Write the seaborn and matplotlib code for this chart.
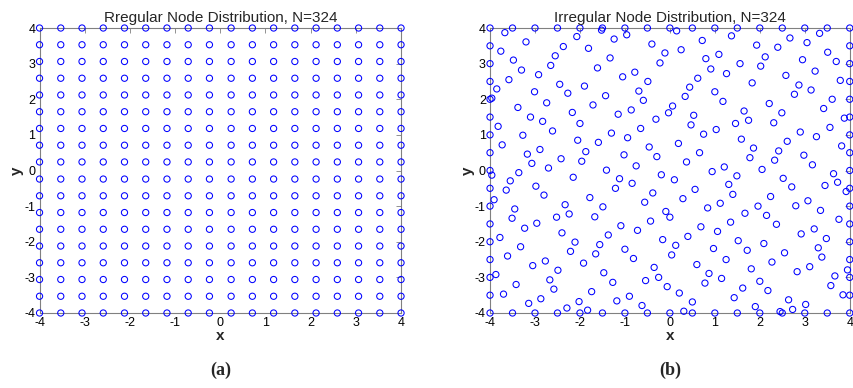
import matplotlib
matplotlib.use("Agg")
import matplotlib.pyplot as plt
import seaborn as sns
import numpy as np
import pandas as pd

# ---------------- data ----------------
grid_vals = [-4.0, -3.53, -3.06, -2.59, -2.12, -1.65, -1.18, -0.71, -0.24,
             0.24, 0.71, 1.18, 1.65, 2.12, 2.59, 3.06, 3.53, 4.0]

edge_vals = [-4.0, -3.5, -3.0, -2.5, -2.0, -1.5, -1.0, -0.5, 0.0,
             0.5, 1.0, 1.5, 2.0, 2.5, 3.0, 3.5, 4.0]

interior_x = [
    -3.67, -3.20, -3.76, -2.37, -2.55, -3.48, -2.65, -3.30, -2.92, -3.58,
    -3.85, -2.45, -3.01, -2.27, -3.96, -2.74, -3.38, -3.10, -2.17,
    -1.52, -2.07, -1.24, -0.96, -1.81, -0.40, -1.33, -0.22, -1.61, -0.78,
    -1.05, -0.49, -1.90, -0.69, -1.43, -0.59, -1.71, -1.15, -0.86,
    0.15, 0.72, 1.37, -0.11, 0.25, 0.80, 1.09, 1.56, 0.91, 1.26,
    0.62, 1.83, 0.44, 1.00, 0.34, 1.18, 0.06, -0.03, 0.53, 1.65,
    2.67, 3.33, 1.93, 2.40, 3.05, 3.51, 2.12, 2.95, 3.70, 2.02,
    3.23, 2.58, 3.79, 2.87, 3.14, 2.77, 3.61, 2.21, 3.42, 2.49,
    -2.83, -3.82, -2.61, -3.27, -3.73, -2.89, -3.17, -2.42, -3.07, -2.70,
    -3.36, -3.96, -2.15, -3.55, -2.98, -3.64, -2.80, -3.91, -2.33, -3.45,
    -0.31, -2.00, -1.30, -0.65, -2.05, -1.59, -0.94, -1.87, -0.46, -1.02,
    -0.29, -1.96, -0.75, -1.41, -0.19, -1.12, -0.84, -1.21, -0.38, -1.78,
    -0.56, -1.49,
    0.47, 1.46, 1.75, 0.75, 1.03, 0.19, 1.59, 0.66, 1.86, 1.78,
    0.37, 1.21, 0.94, 1.49, 0.10, 1.31, 0.56, 1.40, 0.29, 1.12,
    0.84, -0.09,
    3.88, 2.31, 2.90, 3.56, 3.26, 2.61, 2.42, 3.82, 2.98, 2.33,
    3.17, 2.05, 3.64, 2.52, 3.73, 2.71, 3.45, 3.92, 2.24, 3.07,
    1.96, 2.80, 3.35,
    -3.51, -2.52, -2.24, -3.23, -2.96, -3.78, -2.40, -3.32, -2.21, -3.61,
    -3.05, -2.77, -3.87, -2.49, -2.67, -3.42, -2.58, -3.70, -2.87, -3.14,
    -2.29,
    -1.67, -1.09, -0.43, -2.11, -1.37, -0.72, -1.56, -0.16, -1.00, -1.65,
    -0.81, -1.92, -0.35, -1.47, -0.25, -1.27, -0.54, -1.74, -0.90, -2.02,
    -1.18, -0.62, -1.83,
    0.00, 1.67, 0.69, 1.35, 1.06, 0.40, 1.52, 0.13, 0.97, 1.72,
    0.04, 1.25, 0.60, 1.81, 0.87, 1.15, 0.78, -0.06, 1.62, 0.21,
    1.43, 0.50, 0.31,
    2.15, 3.76, 2.37, 3.21, 2.92, 3.48, 2.09, 3.30, 2.55, 3.38,
    2.27, 3.11, 2.83, 3.95, 3.67, 2.00, 3.58, 2.18, 3.85, 2.64,
    3.02, 1.90, 2.73, 2.45,
]

interior_y = [
    3.87, 3.61, 3.35, 3.48, 3.22, 3.10, 2.95, 2.82, 2.69, 2.55,
    2.29, 2.42, 2.21, 2.17, 2.03, 1.90, 1.77, 1.50, 1.63,
    3.94, 3.76, 3.69, 3.81, 3.43, 3.55, 3.16, 3.02, 2.88, 2.76,
    2.63, 2.50, 2.37, 2.23, 2.10, 1.97, 1.84, 1.58, 1.70,
    3.92, 3.65, 3.78, 3.30, 3.39, 3.14, 3.26, 3.00, 2.85, 2.72,
    2.59, 2.46, 2.34, 2.21, 2.08, 1.94, 1.81, 1.62, 1.55, 1.67,
    3.72, 3.85, 3.52, 3.46, 3.59, 3.32, 3.19, 3.11, 3.06, 2.93,
    2.79, 2.67, 2.53, 2.40, 2.26, 2.14, 2.00, 1.88, 1.74, 1.62,
    1.38, 1.24, 1.11, 0.99, 0.72, 0.59, 0.46, 0.33, 0.20, 0.07,
    -0.06, -0.13, -0.19, -0.29, -0.44, -0.55, -0.69, -0.82, -0.96, -1.08,
    1.44, 1.32, 1.05, 1.18, 0.85, 0.79, 0.92, 0.53, 0.66, 0.44,
    0.39, 0.26, 0.13, 0.01, -0.12, -0.23, -0.36, -0.50, -0.63, -0.76,
    -0.89, -1.02,
    1.28, 1.32, 1.41, 1.02, 1.15, 0.76, 0.88, 0.50, 0.63, 0.36,
    0.24, 0.10, -0.03, -0.15, -0.26, -0.39, -0.53, -0.67, -0.79, -0.92,
    -1.05, -1.15,
    1.47, 1.34, 1.08, 1.21, 0.95, 0.82, 0.55, 0.69, 0.43, 0.29,
    0.16, 0.03, -0.09, -0.22, -0.33, -0.46, -0.42, -0.59, -0.73, -0.85,
    -1.00, -0.99, -1.12,
    -1.34, -1.31, -1.22, -1.62, -1.48, -1.88, -1.75, -2.14, -2.27, -2.40,
    -2.67, -2.54, -2.92, -2.80, -3.07, -3.20, -3.33, -3.47, -3.60, -3.73,
    -3.86,
    -1.30, -1.55, -1.42, -2.01, -1.81, -1.68, -2.08, -1.94, -2.21, -2.34,
    -2.47, -2.60, -2.72, -2.87, -3.00, -3.14, -3.09, -3.40, -3.53, -3.68,
    -3.66, -3.79, -3.92,
    -1.31, -1.20, -1.58, -1.45, -1.71, -1.85, -1.97, -2.10, -2.19, -2.24,
    -2.37, -2.50, -2.64, -2.76, -2.89, -3.03, -3.16, -3.26, -3.30, -3.44,
    -3.57, -3.69, -3.95,
    -1.26, -1.37, -1.51, -1.64, -1.78, -1.91, -2.05, -2.17, -2.31, -2.43,
    -2.57, -2.70, -2.84, -2.79, -2.96, -3.11, -3.23, -3.37, -3.49, -3.63,
    -3.76, -3.82, -3.90, -3.96,
]

tick_vals = [-4, -3, -2, -1, 0, 1, 2, 3, 4]
title_a = "Rregular Node Distribution, N=324"
title_b = "Irregular Node Distribution, N=324"
panel_labels = ["(a)", "(b)"]

# ---------------- tables ----------------
gx, gy = np.meshgrid(grid_vals, grid_vals)
df_reg = pd.DataFrame({"x": gx.ravel(), "y": gy.ravel()})

bx, by = [], []
for e in edge_vals:
    bx += [e, e]
    by += [-4.0, 4.0]
for e in edge_vals[1:-1]:
    bx += [-4.0, 4.0]
    by += [e, e]
df_irr = pd.DataFrame({"x": bx + interior_x, "y": by + interior_y})

# ---------------- figure ----------------
sns.set_style("white")
plt.rcParams["font.family"] = ["Liberation Sans", "DejaVu Sans"]
plt.rcParams["axes.unicode_minus"] = False

fig = plt.figure(figsize=(8.54, 3.88), dpi=100)
ax1 = fig.add_axes([0.0463, 0.1933, 0.4233, 0.7345])
ax2 = fig.add_axes([0.5738, 0.1933, 0.4212, 0.7345])

for ax, df, title, lab in [(ax1, df_reg, title_a, panel_labels[0]),
                           (ax2, df_irr, title_b, panel_labels[1])]:
    sns.scatterplot(data=df, x="x", y="y", ax=ax, marker="o",
                    facecolors="none", edgecolor="#0000ff", s=20,
                    linewidth=0.75, clip_on=False, zorder=3)
    ax.set_xlim(-4, 4)
    ax.set_ylim(-4, 4)
    ax.set_xticks(tick_vals)
    ax.set_yticks(tick_vals)
    ax.tick_params(direction="in", length=3.5, width=0.6, color="#808080",
                   labelsize=9, top=True, right=True, pad=3, labelcolor="black")
    for sp in ax.spines.values():
        sp.set_color("#808080")
        sp.set_linewidth(0.8)
        sp.set_visible(True)
    ax.set_title(title, fontsize=11, pad=4)
    ax.set_xlabel("x", fontsize=11, fontweight="bold", labelpad=0)
    ax.set_ylabel("y", fontsize=11, fontweight="bold", labelpad=0)
    ax.text(0.5, -0.20, lab, transform=ax.transAxes, ha="center", va="center",
            fontsize=13, fontweight="bold", family="Liberation Serif")

fig.savefig("out.png", dpi=100)
